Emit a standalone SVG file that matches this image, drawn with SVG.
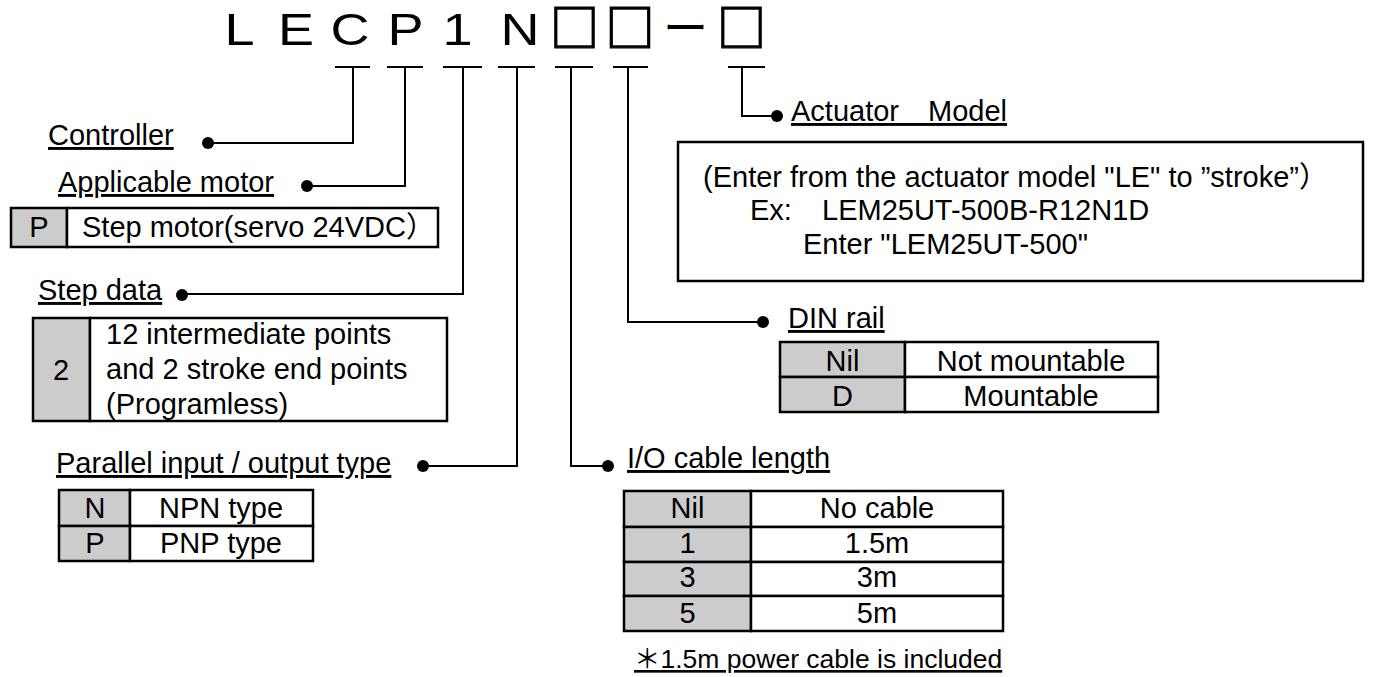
<svg xmlns="http://www.w3.org/2000/svg" width="1373" height="677" viewBox="0 0 1373 677">
<style>
.t{font-family:"Liberation Sans","Noto Sans CJK JP",sans-serif;font-size:29px;fill:#000}
.u{text-decoration:underline}
.m{text-anchor:middle}
.ti{font-family:"Liberation Sans",sans-serif;font-size:45px;fill:#000;text-anchor:middle}
.sq{font-family:"Noto Sans CJK JP",sans-serif;font-size:49px;fill:#000;text-anchor:middle;stroke:#000;stroke-width:1.4}
.dash{font-family:"Noto Sans CJK JP",sans-serif;font-size:45px;fill:#000;text-anchor:middle}
.k{fill:#cccccc;stroke:#000;stroke-width:2.5}
.v{fill:#fff;stroke:#000;stroke-width:2.5}
.conn path{fill:none;stroke:#000;stroke-width:2}
.conn circle{fill:#000}
</style>
<rect width="1373" height="677" fill="#fff"/>
<g id="title">
<text class="ti" transform="translate(239.5,45) scale(1.2,1)">L</text>
<text class="ti" transform="translate(296,45) scale(1.2,1)">E</text>
<text class="ti" transform="translate(350,45) scale(1.2,1)">C</text>
<text class="ti" transform="translate(405.5,45) scale(1.2,1)">P</text>
<text class="ti" transform="translate(457.5,45) scale(1.2,1)">1</text>
<text class="ti" transform="translate(520,45) scale(1.2,1)">N</text>
<text class="sq" x="574.5" y="46">□</text>
<text class="sq" x="630" y="46">□</text>
<text class="dash" x="685.5" y="45">ー</text>
<text class="sq" x="741.5" y="46">□</text>
</g>
<g class="conn" id="connectors">
<path d="M335 67H370M353 67V143H208"/><circle cx="208" cy="143" r="6"/>
<path d="M387 67H423M405 67V186H307"/><circle cx="307" cy="186" r="6"/>
<path d="M443 67H482M463 67V294H182"/><circle cx="182" cy="295" r="6"/>
<path d="M498 67H535M517 67V466H423"/><circle cx="423" cy="466" r="6"/>
<path d="M555 67H593M571 67V466H608"/><circle cx="608" cy="466" r="6"/>
<path d="M613 67H648M628 67V322H763"/><circle cx="763" cy="322" r="6"/>
<path d="M728 67H765M742 67V116H777"/><circle cx="777" cy="116" r="6"/>
</g>
<g id="controller">
<text class="t u" x="48" y="145">Controller</text>
</g>
<g id="motor">
<text class="t u" x="58" y="192">Applicable motor</text>
<rect class="k" x="11" y="208" width="56" height="39"/>
<rect class="v" x="67" y="208" width="371" height="39"/>
<text class="t m" x="39" y="237">P</text>
<text class="t" x="82" y="237">Step motor(servo 24VDC）</text>
</g>
<g id="stepdata">
<text class="t u" x="38" y="300">Step data</text>
<rect class="k" x="33" y="318" width="57" height="103"/>
<rect class="v" x="90" y="318" width="357" height="103"/>
<text class="t m" x="61" y="380">2</text>
<text class="t" x="106" y="344">12 intermediate points</text>
<text class="t" x="106" y="379">and 2 stroke end points</text>
<text class="t" x="106" y="414">(Programless)</text>
</g>
<g id="parallel">
<text class="t u" x="56" y="473">Parallel input / output type</text>
<rect class="k" x="59" y="490" width="71" height="36"/>
<rect class="v" x="130" y="490" width="183" height="36"/>
<rect class="k" x="59" y="526" width="71" height="35"/>
<rect class="v" x="130" y="526" width="183" height="35"/>
<text class="t m" x="95" y="518">N</text>
<text class="t m" x="221" y="518">NPN type</text>
<text class="t m" x="95" y="553">P</text>
<text class="t m" x="221" y="553">PNP type</text>
</g>
<g id="iocable">
<text class="t u" x="627" y="468">I/O cable length</text>
<rect class="k" x="624" y="491" width="127" height="36"/>
<rect class="v" x="751" y="491" width="252" height="36"/>
<rect class="k" x="624" y="527" width="127" height="35"/>
<rect class="v" x="751" y="527" width="252" height="35"/>
<rect class="k" x="624" y="562" width="127" height="34"/>
<rect class="v" x="751" y="562" width="252" height="34"/>
<rect class="k" x="624" y="596" width="127" height="35"/>
<rect class="v" x="751" y="596" width="252" height="35"/>
<text class="t m" x="687.5" y="518">Nil</text>
<text class="t m" x="877" y="518">No cable</text>
<text class="t m" x="687.5" y="553">1</text>
<text class="t m" x="877" y="553">1.5m</text>
<text class="t m" x="687.5" y="587">3</text>
<text class="t m" x="877" y="587">3m</text>
<text class="t m" x="687.5" y="623">5</text>
<text class="t m" x="877" y="623">5m</text>
<text class="t u" x="634" y="668" style="font-size:26.5px">＊1.5m power cable is included</text>
</g>
<g id="dinrail">
<text class="t u" x="788" y="328">DIN rail</text>
<rect class="k" x="780" y="342" width="125" height="35"/>
<rect class="v" x="905" y="342" width="253" height="35"/>
<rect class="k" x="780" y="377" width="125" height="35"/>
<rect class="v" x="905" y="377" width="253" height="35"/>
<text class="t m" x="842.5" y="371">Nil</text>
<text class="t m" x="1031" y="371">Not mountable</text>
<text class="t m" x="842.5" y="406">D</text>
<text class="t m" x="1031" y="406">Mountable</text>
</g>
<g id="actuator">
<text class="t u" x="791" y="121">Actuator　Model</text>
<rect x="678" y="142" width="685" height="139" fill="#fff" stroke="#000" stroke-width="2.5"/>
<text class="t" x="703" y="187">(Enter from the actuator model "LE" to ”stroke”）</text>
<text class="t" x="750" y="220">Ex:<tspan x="822">LEM25UT-500B-R12N1D</tspan></text>
<text class="t" x="803" y="254">Enter "LEM25UT-500"</text>
</g>
</svg>
